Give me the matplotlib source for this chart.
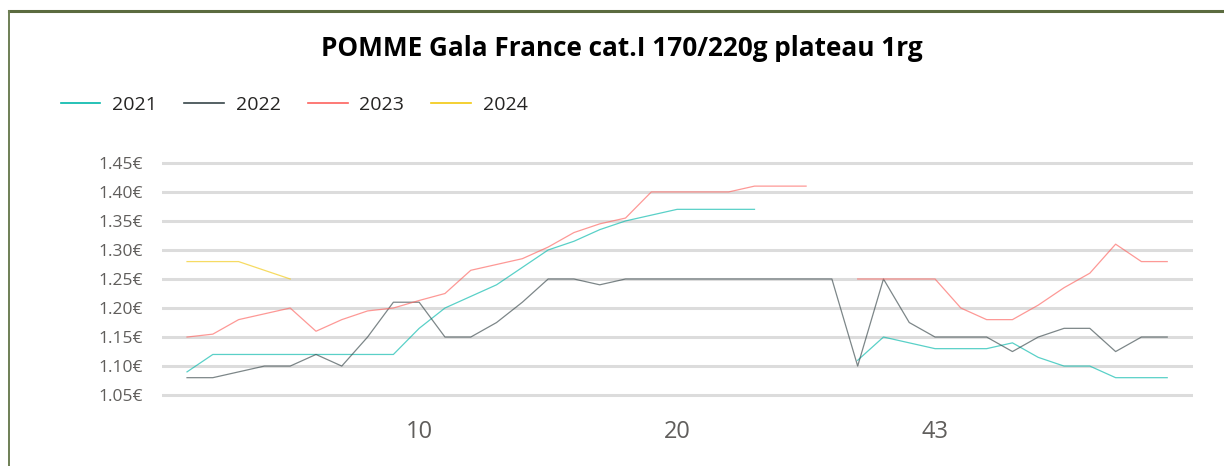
import numpy as np
import matplotlib.pyplot as plt
from matplotlib.lines import Line2D

# weeks shown on the x axis (gap between 26 and 40)
weeks = list(range(1, 27)) + list(range(40, 53))

nan = np.nan
p2021 = [1.09, 1.12, 1.12, 1.12, 1.12, 1.12, 1.12, 1.12, 1.12, 1.165,
         1.20, 1.22, 1.24, 1.27, 1.30, 1.315, 1.335, 1.35, 1.36, 1.37,
         1.37, 1.37, 1.37, nan, nan, nan,
         1.11, 1.15, 1.14, 1.13, 1.13, 1.13, 1.14, 1.115, 1.10, 1.10,
         1.08, 1.08, 1.08]
p2022 = [1.08, 1.08, 1.09, 1.10, 1.10, 1.12, 1.10, 1.15, 1.21, 1.21,
         1.15, 1.15, 1.175, 1.21, 1.25, 1.25, 1.24, 1.25, 1.25, 1.25,
         1.25, 1.25, 1.25, 1.25, 1.25, 1.25,
         1.10, 1.25, 1.175, 1.15, 1.15, 1.15, 1.125, 1.15, 1.165, 1.165,
         1.125, 1.15, 1.15]
p2023 = [1.15, 1.155, 1.18, 1.19, 1.20, 1.16, 1.18, 1.195, 1.20, 1.213,
         1.225, 1.265, 1.275, 1.285, 1.305, 1.33, 1.345, 1.355, 1.40, 1.40,
         1.40, 1.40, 1.41, 1.41, 1.41, nan,
         1.25, 1.25, 1.25, 1.25, 1.20, 1.18, 1.18, 1.205, 1.235, 1.26,
         1.31, 1.28, 1.28]
p2024 = [1.28, 1.28, 1.28, 1.265, 1.25] + [nan] * 34

series = {"2021": p2021, "2022": p2022, "2023": p2023, "2024": p2024}
colors = {"2021": "#01B8AA", "2022": "#374649", "2023": "#FD625E", "2024": "#F2C80F"}

plt.rcParams['font.family'] = ['Open Sans', 'DejaVu Sans']

W, H = 1224, 466
fig = plt.figure(figsize=(W / 100, H / 100), dpi=100)

# frame lines (top and left)
fig.add_artist(Line2D([8.5 / W, 1], [1 - 11 / H, 1 - 11 / H], color="#5B6B3F", lw=2.2))
fig.add_artist(Line2D([8.5 / W, 8.5 / W], [0, 1 - 11 / H], color="#6E7F55", lw=1.4))

ax = fig.add_axes([162 / W, 1 - 398 / H, (1193 - 162) / W, (398 - 160) / H])
x = np.arange(len(weeks))
for name, vals in series.items():
    ax.plot(x, vals, color=colors[name], lw=0.9, alpha=0.65)

ax.set_xlim(-0.97, 39.0)
ax.set_ylim(1.045, 1.455)
yt = np.arange(1.05, 1.451, 0.05)
ax.set_yticks(yt)
ax.set_yticklabels([f"{v:.2f}€" for v in yt], fontsize=12.5, color="#605E5C")
ax.set_xticks([9, 19, 29])
ax.set_xticklabels([str(weeks[i]) for i in [9, 19, 29]], fontsize=17, color="#605E5C")
ax.tick_params(axis='y', length=0, pad=14)
ax.tick_params(axis='x', length=0, pad=16)
ax.grid(axis='y', color="#DCDCDC", lw=2.2)
ax.set_axisbelow(True)
for s in ax.spines.values():
    s.set_visible(False)

fig.text(622 / W, 1 - 48 / H, "POMME Gala France cat.I 170/220g plateau 1rg",
         ha='center', va='center', fontsize=18.8, fontweight='bold', color="#000000")

handles = [Line2D([], [], color=colors[n], lw=1.2) for n in series]
fig.legend(handles, list(series.keys()), loc='center left',
           bbox_to_anchor=(43 / W, 1 - 105 / H), ncol=4, frameon=False,
           fontsize=14, handlelength=2.05, handletextpad=0.6, columnspacing=1.4,
           labelcolor="#252423")

fig.savefig("out.png", dpi=100)
